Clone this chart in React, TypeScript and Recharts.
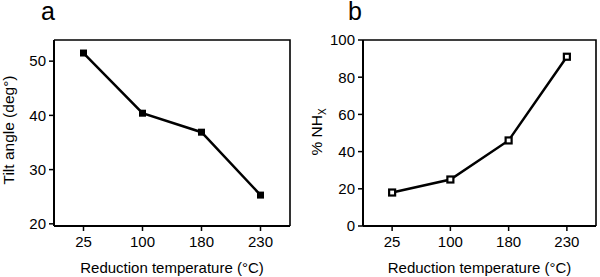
import { LineChart, Line, XAxis, YAxis } from 'recharts';

const temperatures = ['25', '100', '180', '230'];
const tiltAngles = [51.5, 40.4, 36.9, 25.3];
const nhxPercent = [18, 25, 46, 91];
const tiltTicks = [20, 30, 40, 50];
const nhxTicks = [0, 20, 40, 60, 80, 100];

const tiltData = temperatures.map((t, i) => ({ idx: i, temp: t, value: tiltAngles[i] }));
const nhxData = temperatures.map((t, i) => ({ idx: i, temp: t, value: nhxPercent[i] }));
const idxTicks = temperatures.map((_, i) => i);
const xDomain: [number, number] = [-0.5, temperatures.length - 0.5];
const tiltDomain: [number, number] = [19.6, 53.9];
const nhxDomain: [number, number] = [0, 100];

// the page keeps the browser's 8px body margin otherwise
if (typeof document !== 'undefined') document.body.style.margin = '0';

const FONT = '"Liberation Sans", Arial, sans-serif';
const tickStyle = { fontSize: 15, fill: '#000', fontFamily: FONT };

const SolidSquare = (props: any) => {
  const { cx, cy } = props;
  return <rect x={cx - 3.5} y={cy - 3.5} width={7} height={7} fill="#000" />;
};

const HollowSquare = (props: any) => {
  const { cx, cy } = props;
  return <rect x={cx - 3} y={cy - 3} width={6} height={6} fill="#fff" stroke="#000" strokeWidth={2.2} />;
};

const xLabel = (props: any) => {
  const { viewBox } = props;
  const cx = viewBox.x + viewBox.width / 2;
  return (
    <text x={cx} y={272.5} textAnchor="middle" fontSize={15} fontFamily={FONT} fill="#000">
      Reduction temperature (°C)
    </text>
  );
};

const tiltLabel = () => (
  <text x={0} y={0} transform="translate(14,130) rotate(-90)" textAnchor="middle" fontSize={15.5} fontFamily={FONT} fill="#000">
    Tilt angle (deg°)
  </text>
);

const nhxLabel = () => (
  <text x={0} y={0} transform="translate(22,132) rotate(-90)" textAnchor="middle" fontSize={15.5} fontFamily={FONT} fill="#000">
    % NH<tspan fontSize={10} dy={4}>X</tspan>
  </text>
);

// panel letters and the top/right edges of each plot box; left/bottom come from the axes
const Overlay = () => (
  <svg style={{ position: 'absolute', left: 0, top: 0, pointerEvents: 'none', zIndex: 2 }} width={600} height={277}>
    <text x={41} y={20} fontSize={25} fontFamily={FONT} fill="#000">a</text>
    <text x={348} y={20} fontSize={25} fontFamily={FONT} fill="#000">b</text>
    <polyline points="54,40 290,40 290,226" fill="none" stroke="#000" strokeWidth={1.6} />
    <polyline points="363,40 596,40 596,226" fill="none" stroke="#000" strokeWidth={1.6} />
  </svg>
);

export default function App() {
  return (
    <div style={{ position: 'relative', width: 600, height: 277, background: '#fff' }}>
      <div style={{ position: 'absolute', left: 0, top: 0 }}>
        <LineChart width={300} height={277} data={tiltData} margin={{ top: 40, right: 10, bottom: 0, left: 0 }}>
          <XAxis
            type="number"
            dataKey="idx"
            domain={xDomain}
            ticks={idxTicks}
            tickFormatter={(i: number) => temperatures[i]}
            height={51}
            tick={tickStyle}
            tickSize={5}
            tickMargin={5}
            axisLine={{ stroke: '#000', strokeWidth: 2 }}
            tickLine={{ stroke: '#000', strokeWidth: 1.5 }}
            label={{ content: xLabel }}
          />
          <YAxis
            width={54}
            domain={tiltDomain}
            ticks={tiltTicks}
            allowDataOverflow
            tick={tickStyle}
            tickSize={5}
            tickMargin={3}
            axisLine={{ stroke: '#000', strokeWidth: 2 }}
            tickLine={{ stroke: '#000', strokeWidth: 1.5 }}
            label={{ content: tiltLabel }}
          />
          <Line
            type="linear"
            dataKey="value"
            stroke="#000"
            strokeWidth={2.5}
            dot={<SolidSquare />}
            activeDot={false}
            isAnimationActive={false}
          />
        </LineChart>
      </div>

      <div style={{ position: 'absolute', left: 300, top: 0 }}>
        <LineChart width={300} height={277} data={nhxData} margin={{ top: 40, right: 4, bottom: 0, left: 0 }}>
          <XAxis
            type="number"
            dataKey="idx"
            domain={xDomain}
            ticks={idxTicks}
            tickFormatter={(i: number) => temperatures[i]}
            height={51}
            tick={tickStyle}
            tickSize={5}
            tickMargin={5}
            axisLine={{ stroke: '#000', strokeWidth: 2 }}
            tickLine={{ stroke: '#000', strokeWidth: 1.5 }}
            label={{ content: xLabel }}
          />
          <YAxis
            width={63}
            domain={nhxDomain}
            ticks={nhxTicks}
            tick={tickStyle}
            tickSize={5}
            tickMargin={3}
            axisLine={{ stroke: '#000', strokeWidth: 2 }}
            tickLine={{ stroke: '#000', strokeWidth: 1.5 }}
            label={{ content: nhxLabel }}
          />
          <Line
            type="linear"
            dataKey="value"
            stroke="#000"
            strokeWidth={2.5}
            dot={<HollowSquare />}
            activeDot={false}
            isAnimationActive={false}
          />
        </LineChart>
      </div>

      <Overlay />
    </div>
  );
}
